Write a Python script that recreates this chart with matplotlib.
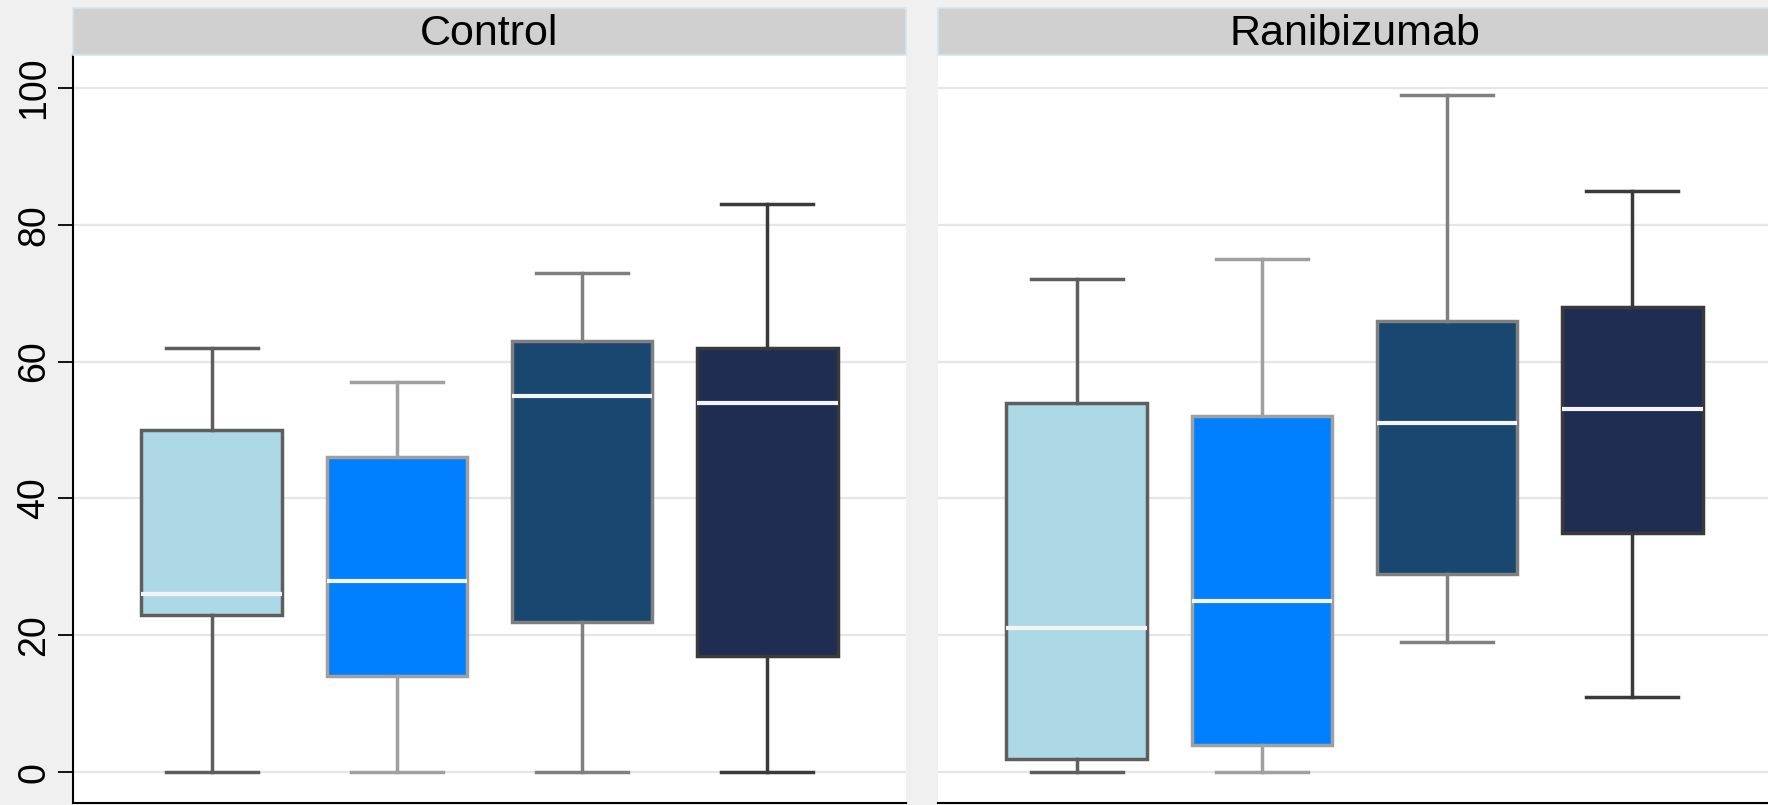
import numpy as np
import matplotlib.pyplot as plt
from matplotlib.patches import Rectangle

plt.rcParams['font.family'] = ['Liberation Sans', 'DejaVu Sans']

panels = ["Control", "Ranibizumab"]

# five-number summaries per group, four boxes each
control_whislo = [0, 0, 0, 0]
control_q1 = [23, 14, 22, 17]
control_med = [26, 28, 55, 54]
control_q3 = [50, 46, 63, 62]
control_whishi = [62, 57, 73, 83]

ranibizumab_whislo = [0, 0, 19, 11]
ranibizumab_q1 = [2, 4, 29, 35]
ranibizumab_med = [21, 25, 51, 53]
ranibizumab_q3 = [54, 52, 66, 68]
ranibizumab_whishi = [72, 75, 99, 85]

y_ticks = [0, 20, 40, 60, 80, 100]

fill_colors = ["#ADD8E6", "#0080FF", "#1A4770", "#1F2D52"]
edge_colors = ["#5E5E5E", "#A0A0A0", "#808080", "#3A3A3A"]


def make_stats(whislo, q1, med, q3, whishi):
    stats = []
    for lo, a, m, b, hi in zip(whislo, q1, med, q3, whishi):
        stats.append(dict(whislo=lo, q1=a, med=m, q3=b, whishi=hi, fliers=[]))
    return stats


groups = [
    make_stats(control_whislo, control_q1, control_med, control_q3, control_whishi),
    make_stats(ranibizumab_whislo, ranibizumab_q1, ranibizumab_med,
               ranibizumab_q3, ranibizumab_whishi),
]

fig = plt.figure(figsize=(17.68, 8.05), dpi=100)
fig.patch.set_facecolor("#F0F0F0")

W, H = 1768.0, 805.0
ax_left = [73 / W, 938 / W]
ax_w = 833 / W
ax_bottom = 2 / H
ax_h = (803 - 55) / H
head_h = 47 / 748.0

for k, (name, stats) in enumerate(zip(panels, groups)):
    ax = fig.add_axes([ax_left[k], ax_bottom, ax_w, ax_h])
    ax.set_facecolor("white")
    ax.set_xlim(0.25, 4.75)
    ax.set_ylim(-4.5, 104.8)
    for y in y_ticks:
        ax.axhline(y, color="#E6E6E6", lw=1.6, zorder=0)

    for i, st in enumerate(stats):
        ec = edge_colors[i]
        ax.bxp([st], positions=[i + 1], widths=0.76, capwidths=0.5,
               showfliers=False, patch_artist=True,
               boxprops=dict(facecolor=fill_colors[i], edgecolor=ec, linewidth=2.5),
               whiskerprops=dict(color=ec, linewidth=2.5),
               capprops=dict(color=ec, linewidth=2.5),
               medianprops=dict(color="#F4F4F4", linewidth=3.0, solid_capstyle="butt"))

    ax.set_xticks([])
    for s in ["top", "right"]:
        ax.spines[s].set_visible(False)
    ax.spines["bottom"].set_color("black")
    ax.spines["bottom"].set_linewidth(1.5)
    if k == 0:
        ax.set_yticks(y_ticks)
        ax.set_yticklabels([str(t) for t in y_ticks], rotation=90, va="center",
                           fontsize=27)
        ax.tick_params(axis="y", length=11, width=1.3, pad=4, colors="black")
        ax.spines["left"].set_color("black")
        ax.spines["left"].set_linewidth(1.5)
    else:
        ax.set_yticks([])
        ax.spines["left"].set_visible(False)

    # panel header strip
    ax.add_patch(Rectangle((0, 1.0), 1, head_h, transform=ax.transAxes,
                           facecolor="#D0D0D0", edgecolor="#D8E4EE", lw=1.2,
                           clip_on=False, zorder=3))
    ax.text(0.5, 1 + head_h * 0.44, name, transform=ax.transAxes, ha="center",
            va="center", fontsize=31, color="black", zorder=4)

fig.savefig("out.png", dpi=100, facecolor=fig.get_facecolor())
